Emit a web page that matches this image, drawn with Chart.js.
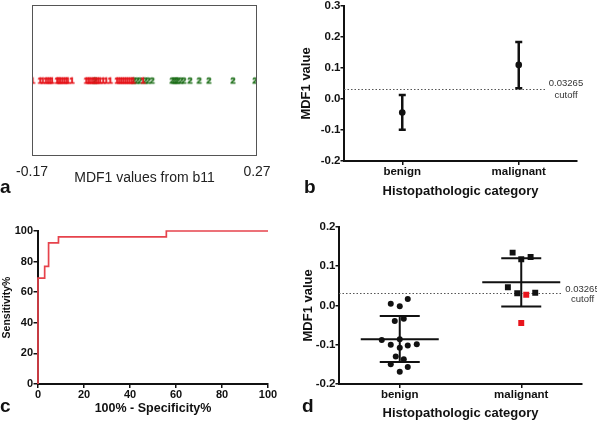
<!DOCTYPE html>
<html><head><meta charset="utf-8">
<script src="https://cdn.jsdelivr.net/npm/chart.js@4.4.0/dist/chart.umd.min.js"></script>
<style>
html,body{margin:0;padding:0;background:#fff;}
#wrap{position:relative;width:597px;height:422px;overflow:hidden;font-family:"Liberation Sans",Arial,sans-serif;}
canvas{position:absolute;}
.lbl{position:absolute;font-weight:bold;font-size:19px;line-height:19px;color:#111;}
</style></head><body>
<div id="wrap">
  <canvas id="ca" width="290" height="200" style="left:0;top:0"></canvas>
  <canvas id="cb" width="307" height="205" style="left:290px;top:0"></canvas>
  <canvas id="cc" width="290" height="212" style="left:0;top:210px"></canvas>
  <canvas id="cd" width="307" height="212" style="left:290px;top:210px"></canvas>
  <div class="lbl" style="left:0;top:177px">a</div>
  <div class="lbl" style="left:304px;top:177px">b</div>
  <div class="lbl" style="left:0;top:396px">c</div>
  <div class="lbl" style="left:302px;top:396px">d</div>
</div>
<script>
// ---------- Panel a: MDF1 values from b11 ----------
const aTitle = 'MDF1 values from b11';
const aTickValues = [-0.17, 0.27];
const aTickLabels = ['-0.17', '0.27'];
const aGroup1 = [-0.169, -0.154, -0.149, -0.143, -0.139, -0.135, -0.131, -0.121, -0.118, -0.115, -0.111,
  -0.107, -0.103, -0.100, -0.092, -0.064, -0.060, -0.057, -0.053, -0.049, -0.045, -0.041, -0.037,
  -0.031, -0.025, -0.017, -0.004, 0.000, 0.004, 0.008, 0.012, 0.016, 0.020, 0.024, 0.028, 0.047];
const aGroup2 = [-0.047, 0.029, 0.035, 0.041, 0.051, 0.057, 0.065, 0.104, 0.108, 0.112, 0.115,
  0.121, 0.127, 0.139, 0.157, 0.176, 0.223, 0.266];

// ---------- Panel b: mean with error bars ----------
const bCategories = ['benign', 'malignant'];
const bMean = [-0.0435, 0.110];
const bLow = [-0.099, 0.035];
const bHigh = [0.013, 0.184];
const bYTicks = [-0.2, -0.1, 0, 0.1, 0.2, 0.3];
const bYTickLabels = ['-0.2', '-0.1', '0.0', '0.1', '0.2', '0.3'];
const cutoff = 0.03265;
const cutoffLabel = ['0.03265', 'cutoff'];
const yTitle = 'MDF1 value';
const catTitle = 'Histopathologic category';

// ---------- Panel c: ROC ----------
const cFpr = [0, 0, 2.9, 4.6, 8.9, 55.8, 100];
const cTpr = [0, 69.2, 76.9, 92.3, 96.2, 100, 100];
const cTicks = [0, 20, 40, 60, 80, 100];
const cXTitle = '100% - Specificity%';
const cYTitle = 'Sensitivity%';

// ---------- Panel d: individual values ----------
const dBenignValues = [0.004, -0.002, 0.016, -0.040, -0.034, -0.088, -0.086, -0.100, -0.102, -0.099,
  -0.108, -0.130, -0.137, -0.150, -0.157, -0.169];
const dBenignJitter = [-0.074, 0, 0.066, -0.041, 0.033, -0.148, 0, -0.074, 0.066, 0.14, 0, -0.033,
  0.033, -0.074, 0.066, 0];
const dMalignantValues = [0.134, 0.117, 0.123, 0.046, 0.031, 0.032, 0.027, -0.045];
const dMalignantJitter = [-0.071, 0, 0.077, -0.11, -0.033, 0.115, 0.041, 0];
const dMalignantMisclassified = [0, 0, 0, 0, 0, 0, 1, 1];
const dMean = [-0.086, 0.059];
const dSdLow = [-0.144, -0.003];
const dSdHigh = [-0.027, 0.120];
const dYTicks = [-0.2, -0.1, 0, 0.1, 0.2];
const dYTickLabels = ['-0.2', '-0.1', '0.0', '0.1', '0.2'];

// ---------- shared ----------
const FONT = '"Liberation Sans", Arial, sans-serif';
const INK = '#111';
Chart.defaults.font.family = FONT;
Chart.defaults.color = INK;
const basePlugins = { legend: { display: false }, tooltip: { enabled: false } };

function digitCanvas(ch, color) {
  const c = document.createElement('canvas');
  c.width = 8; c.height = 12;
  const g = c.getContext('2d');
  g.fillStyle = color;
  g.strokeStyle = color;
  g.lineWidth = 0.6;
  g.font = 'bold 9px ' + FONT;
  g.textAlign = 'center';
  g.textBaseline = 'middle';
  g.fillText(ch, 4, 6.5);
  g.strokeText(ch, 4, 6.5);
  return c;
}

const boxPlugin = {
  id: 'box',
  afterDraw(chart) {
    const { ctx, chartArea: ca } = chart;
    ctx.save();
    ctx.strokeStyle = '#555';
    ctx.lineWidth = 1;
    ctx.strokeRect(ca.left + 0.5, ca.top + 0.5, ca.right - ca.left - 1, ca.bottom - ca.top - 1);
    ctx.restore();
  }
};

function cutoffPlugin(lineGap, textOffset, dy1, dy2) {
  return {
    id: 'cutoff',
    beforeDatasetsDraw(chart) {
      const { ctx, chartArea: ca, scales: { y } } = chart;
      const py = Math.round(y.getPixelForValue(cutoff)) + 0.5;
      ctx.save();
      ctx.strokeStyle = '#555';
      ctx.lineWidth = 1.2;
      ctx.setLineDash([1.5, 2]);
      ctx.beginPath();
      ctx.moveTo(ca.left, py);
      ctx.lineTo(ca.right - lineGap, py);
      ctx.stroke();
      ctx.setLineDash([]);
      ctx.fillStyle = '#333';
      ctx.font = '9.5px ' + FONT;
      ctx.textAlign = 'center';
      ctx.textBaseline = 'middle';
      ctx.fillText(cutoffLabel[0], ca.right - textOffset, py + dy1);
      ctx.fillText(cutoffLabel[1], ca.right - textOffset, py + dy2);
      ctx.restore();
    }
  };
}

function catXScale(height, tickFont, titleFont, titlePadBottom) {
  return {
    type: 'linear', min: -0.5, max: 1.5,
    afterBuildTicks: s => { s.ticks = bCategories.map((_, i) => ({ value: i })); },
    afterFit: s => { s.height = height; },
    ticks: { callback: (v, i) => bCategories[i], font: { size: tickFont, weight: 'bold' }, color: INK, padding: 0, autoSkip: false, maxRotation: 0 },
    grid: { drawOnChartArea: false, color: INK, lineWidth: 1.5, tickLength: 4 },
    border: { display: true, color: INK, width: 2 },
    title: { display: true, text: catTitle, font: { size: titleFont, weight: 'bold' }, color: INK, padding: { top: 0, bottom: titlePadBottom } }
  };
}

function valueYScale(min, max, tickVals, tickLabels, width, titlePadTop) {
  return {
    type: 'linear', min: min, max: max,
    afterBuildTicks: s => { s.ticks = tickVals.map(v => ({ value: v })); },
    afterFit: s => { s.width = width; },
    ticks: { callback: (v, i) => tickLabels[i], font: { size: 11.5, weight: 'bold', lineHeight: 1 }, color: INK, padding: 0, autoSkip: false },
    grid: { drawOnChartArea: false, color: INK, lineWidth: 1.5, tickLength: 3.5 },
    border: { display: true, color: INK, width: 2 },
    title: { display: true, text: yTitle, font: { size: 13, weight: 'bold' }, color: INK, padding: { top: titlePadTop, bottom: 0 } }
  };
}

// ---------- Chart a ----------
new Chart(document.getElementById('ca'), {
  type: 'scatter',
  data: {
    datasets: [
      { data: aGroup1.map(v => ({ x: v, y: 0 })), pointStyle: digitCanvas('1', 'rgb(228,18,24)'), pointRadius: 3 },
      { data: aGroup2.map(v => ({ x: v, y: 0 })), pointStyle: digitCanvas('2', 'rgba(26,108,22,0.92)'), pointRadius: 3 }
    ]
  },
  options: {
    responsive: false, animation: false, devicePixelRatio: 1,
    layout: { padding: { left: 32, top: 1, right: 33, bottom: 0 } },
    plugins: basePlugins,
    scales: {
      x: {
        type: 'linear', min: -0.17, max: 0.27,
        afterBuildTicks: s => { s.ticks = aTickValues.map(v => ({ value: v })); },
        afterFit: s => { s.height = 44; },
        ticks: { callback: (v, i) => aTickLabels[i], font: { size: 14 }, color: '#222', padding: 8, autoSkip: false, maxRotation: 0 },
        grid: { display: false, drawTicks: false },
        border: { display: false },
        title: { display: true, text: aTitle, font: { size: 14 }, color: '#222', padding: { top: 0, bottom: 13 } }
      },
      y: { display: false, min: -1, max: 1 }
    }
  },
  plugins: [boxPlugin]
});

// ---------- Chart b ----------
const bErrPlugin = {
  id: 'berr',
  beforeDatasetsDraw(chart) {
    const { ctx, scales: { x, y } } = chart;
    ctx.save();
    ctx.strokeStyle = INK;
    ctx.lineWidth = 2.5;
    bMean.forEach((m, i) => {
      const px = x.getPixelForValue(i);
      const yl = y.getPixelForValue(bLow[i]), yh = y.getPixelForValue(bHigh[i]);
      ctx.beginPath();
      ctx.moveTo(px, yl); ctx.lineTo(px, yh);
      ctx.moveTo(px - 3.5, yl); ctx.lineTo(px + 3.5, yl);
      ctx.moveTo(px - 3.5, yh); ctx.lineTo(px + 3.5, yh);
      ctx.stroke();
    });
    ctx.restore();
  }
};
new Chart(document.getElementById('cb'), {
  type: 'scatter',
  data: { datasets: [{ data: bMean.map((m, i) => ({ x: i, y: m })), pointRadius: 3.3, pointBackgroundColor: INK, pointBorderWidth: 0 }] },
  options: {
    responsive: false, animation: false, devicePixelRatio: 1,
    layout: { padding: { left: 0, top: 6, right: 20, bottom: 0 } },
    plugins: basePlugins,
    scales: {
      x: catXScale(44, 11.5, 13, 6),
      y: valueYScale(-0.2, 0.3, bYTicks, bYTickLabels, 54, 8.5)
    }
  },
  plugins: [cutoffPlugin(32, 11, -6, 5.5), bErrPlugin]
});

// ---------- Chart c ----------
new Chart(document.getElementById('cc'), {
  type: 'scatter',
  data: { datasets: [{ data: cFpr.map((f, i) => ({ x: f, y: cTpr[i] })), showLine: true, stepped: 'before', borderColor: '#e6434c', borderWidth: 1.7, pointRadius: 0, clip: false }] },
  options: {
    responsive: false, animation: false, devicePixelRatio: 1,
    layout: { padding: { left: 0, top: 21, right: 22, bottom: 0 } },
    plugins: basePlugins,
    scales: {
      x: {
        type: 'linear', min: 0, max: 100,
        afterBuildTicks: s => { s.ticks = cTicks.map(v => ({ value: v })); },
        afterFit: s => { s.height = 38; },
        ticks: { font: { size: 11, weight: 'bold' }, color: INK, padding: 0.5, autoSkip: false, maxRotation: 0 },
        grid: { drawOnChartArea: false, color: INK, lineWidth: 1.5, tickLength: 4 },
        border: { display: true, color: INK, width: 2 },
        title: { display: true, text: cXTitle, font: { size: 12.5, weight: 'bold' }, color: INK, padding: { top: 0, bottom: 5.5 } }
      },
      y: {
        type: 'linear', min: 0, max: 100,
        afterBuildTicks: s => { s.ticks = cTicks.map(v => ({ value: v })); },
        afterFit: s => { s.width = 38; },
        ticks: { font: { size: 11, weight: 'bold', lineHeight: 1 }, color: INK, padding: 0.5, autoSkip: false },
        grid: { drawOnChartArea: false, color: INK, lineWidth: 1.5, tickLength: 4.5 },
        border: { display: true, color: INK, width: 2 },
        title: { display: true, text: cYTitle, font: { size: 10.5, weight: 'bold' }, color: INK, padding: { top: 1.2, bottom: 0 } }
      }
    }
  }
});

// ---------- Chart d ----------
const dStatPlugin = {
  id: 'dstat',
  beforeDatasetsDraw(chart) {
    const { ctx, scales: { x, y } } = chart;
    ctx.save();
    ctx.strokeStyle = INK;
    ctx.lineWidth = 2;
    dMean.forEach((m, i) => {
      const px = x.getPixelForValue(i);
      const ym = y.getPixelForValue(m), yl = y.getPixelForValue(dSdLow[i]), yh = y.getPixelForValue(dSdHigh[i]);
      ctx.beginPath();
      ctx.moveTo(px - 39, ym); ctx.lineTo(px + 39, ym);
      ctx.moveTo(px, yl); ctx.lineTo(px, yh);
      ctx.moveTo(px - 20, yl); ctx.lineTo(px + 20, yl);
      ctx.moveTo(px - 20, yh); ctx.lineTo(px + 20, yh);
      ctx.stroke();
    });
    ctx.restore();
  }
};
new Chart(document.getElementById('cd'), {
  type: 'scatter',
  data: {
    datasets: [
      { data: dBenignValues.map((v, i) => ({ x: 0 + dBenignJitter[i], y: v })), pointStyle: 'circle', pointRadius: 3, pointBackgroundColor: INK, pointBorderWidth: 0 },
      { data: dMalignantValues.map((v, i) => ({ x: 1 + dMalignantJitter[i], y: v })), pointStyle: 'rect', pointRadius: 4.2,
        pointBackgroundColor: dMalignantMisclassified.map(f => f ? '#e8141c' : INK), pointBorderWidth: 0 }
    ]
  },
  options: {
    responsive: false, animation: false, devicePixelRatio: 1,
    layout: { padding: { left: 0, top: 16.7, right: 15, bottom: 0 } },
    plugins: basePlugins,
    scales: {
      x: catXScale(38, 11.5, 13, 1.2),
      y: valueYScale(-0.2, 0.2, dYTicks, dYTickLabels, 49, 10.2)
    }
  },
  plugins: [cutoffPlugin(20, -0.5, -4.5, 6), dStatPlugin]
});
</script>
</body></html>
